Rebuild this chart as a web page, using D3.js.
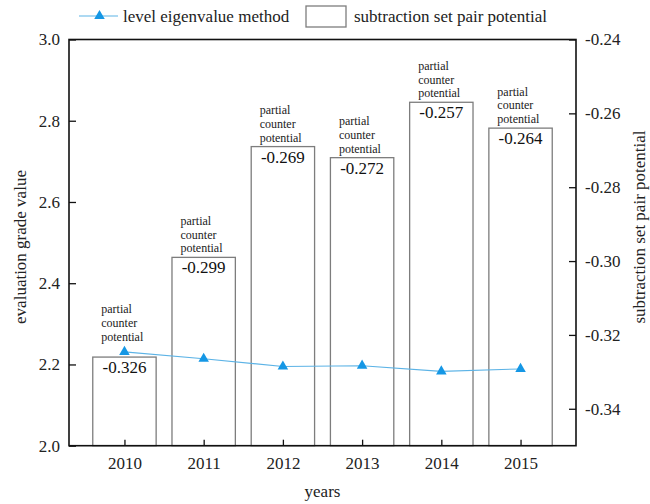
<!DOCTYPE html>
<html>
<head>
<meta charset="utf-8">
<script src="https://cdn.jsdelivr.net/npm/d3@7"></script>
<style>
  html, body { margin: 0; padding: 0; background: #fff; }
  svg { display: block; }
</style>
</head>
<body>
<svg id="chart" width="650" height="504"></svg>
<script>
// Years on the x axis
const years = ["2010", "2011", "2012", "2013", "2014", "2015"];
// Evaluation grade from the level eigenvalue method (left axis)
const eigenValues = [2.231, 2.214, 2.195, 2.197, 2.183, 2.189];
// Subtraction set pair potential for each year (right axis)
const potentialValues = [-0.326, -0.299, -0.269, -0.272, -0.257, -0.264];
// Text written above each bar
const potentialLabel = ["partial", "counter", "potential"];
// Tick values
const leftTicks = [2.0, 2.2, 2.4, 2.6, 2.8, 3.0];
const rightTicks = [-0.24, -0.26, -0.28, -0.30, -0.32, -0.34];

const FONT = "'Liberation Serif', 'Times New Roman', serif";
const svg = d3.select("#chart").attr("font-family", FONT);
const plotL = 69, plotR = 576, plotT = 39.5, plotB = 445.7;

const x = d3.scalePoint().domain(years).range([plotL, plotR]).padding(0.7);
const yL = d3.scaleLinear().domain([2.0, 3.0]).range([plotB, plotT]);
const yR = d3.scaleLinear().domain([-0.35, -0.24]).range([plotB, plotT]);
const barW = x.step() * 0.8;
const fmtMinus = s => s.replace("\u2212", "-");

// Bars for the set pair potential
const bars = svg.append("g");
years.forEach((yr, i) => {
  const v = potentialValues[i];
  bars.append("rect")
    .attr("x", x(yr) - barW / 2)
    .attr("y", yR(v))
    .attr("width", barW)
    .attr("height", plotB - yR(v))
    .attr("fill", "#fff")
    .attr("stroke", "#7d7d7d")
    .attr("stroke-width", 1.3);
  bars.append("text")
    .attr("x", x(yr))
    .attr("y", yR(v) + 16)
    .attr("text-anchor", "middle")
    .attr("font-size", 17)
    .attr("fill", "#111")
    .text(fmtMinus(d3.format(".3f")(v)));
  // keep the note clear of the line marker when it sits near the bar top
  const anchor = Math.min(yR(v), yL(eigenValues[i]) - 6) - 5;
  potentialLabel.forEach((t, k) => {
    bars.append("text")
      .attr("x", x(yr) - barW / 2 + 8.5)
      .attr("y", anchor - (potentialLabel.length - 1 - k) * 13.7)
      .attr("font-size", 12)
      .attr("fill", "#222")
      .text(t);
  });
});

// Line for the level eigenvalue method
const lineColor = "#5cb3e6", markColor = "#1597e5";
svg.append("path")
  .datum(eigenValues)
  .attr("fill", "none")
  .attr("stroke", lineColor)
  .attr("stroke-width", 1.1)
  .attr("d", d3.line().x((d, i) => x(years[i])).y(d => yL(d)));
const tri = d3.symbol().type(d3.symbolTriangle).size(48);
svg.append("g").selectAll("path")
  .data(eigenValues)
  .join("path")
  .attr("transform", (d, i) => `translate(${x(years[i])},${yL(d)})`)
  .attr("d", tri)
  .attr("fill", markColor);

// Axes, ticks pointing inward
const axisStyle = g => {
  g.attr("font-family", FONT).attr("font-size", 17);
  g.select(".domain").remove();
  g.selectAll(".tick line").attr("stroke", "#111").attr("stroke-width", 1.3);
  g.selectAll(".tick text").attr("fill", "#222");
};
svg.append("g").attr("transform", `translate(${plotL},0)`)
  .call(d3.axisLeft(yL).tickValues(leftTicks).tickFormat(d3.format(".1f")).tickSize(-7).tickPadding(9))
  .call(axisStyle);
svg.append("g").attr("transform", `translate(${plotR},0)`)
  .call(d3.axisRight(yR).tickValues(rightTicks).tickFormat(d => fmtMinus(d3.format(".2f")(d))).tickSize(-7).tickPadding(9))
  .call(axisStyle);
svg.append("g").attr("transform", `translate(0,${plotB})`)
  .call(d3.axisBottom(x).tickSize(-6).tickPadding(11))
  .call(axisStyle);

// Plot frame
svg.append("rect")
  .attr("x", plotL).attr("y", plotT)
  .attr("width", plotR - plotL).attr("height", plotB - plotT)
  .attr("fill", "none").attr("stroke", "#111").attr("stroke-width", 1.6);

// Axis titles
svg.append("text")
  .attr("transform", "translate(25.5,247) rotate(-90)")
  .attr("text-anchor", "middle").attr("font-size", 17).attr("fill", "#222")
  .text("evaluation grade value");
svg.append("text")
  .attr("transform", "translate(645,227) rotate(-90)")
  .attr("text-anchor", "middle").attr("font-size", 17).attr("fill", "#222")
  .text("subtraction set pair potential");
svg.append("text")
  .attr("x", (plotL + plotR) / 2).attr("y", 497)
  .attr("text-anchor", "middle").attr("font-size", 17).attr("fill", "#222")
  .text("years");

// Legend
const lg = svg.append("g");
lg.append("line").attr("x1", 79).attr("x2", 118).attr("y1", 16).attr("y2", 16)
  .attr("stroke", lineColor).attr("stroke-width", 1.1);
lg.append("path").attr("transform", "translate(99.5,16)").attr("d", tri).attr("fill", markColor);
lg.append("text").attr("x", 123).attr("y", 22).attr("font-size", 17).attr("fill", "#222")
  .text("level eigenvalue method");
lg.append("rect").attr("x", 306).attr("y", 6).attr("width", 40).attr("height", 21)
  .attr("fill", "#fff").attr("stroke", "#7d7d7d").attr("stroke-width", 1.3);
lg.append("text").attr("x", 354).attr("y", 22).attr("font-size", 17).attr("fill", "#222")
  .text("subtraction set pair potential");
</script>
</body>
</html>
